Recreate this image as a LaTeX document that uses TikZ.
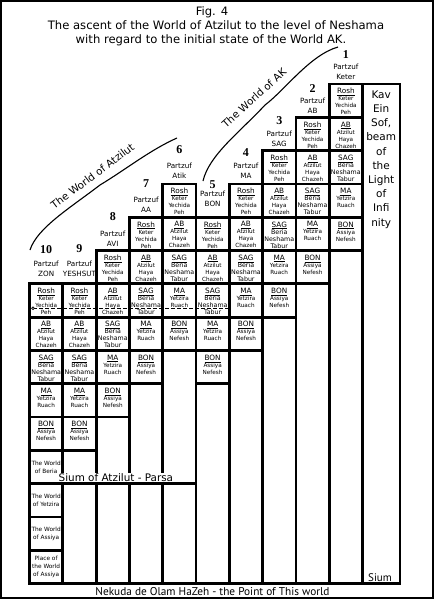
\documentclass[tikz,border=0pt]{standalone}
\usepackage{fontspec}
\setmainfont{DejaVu Sans}
\newfontfamily\numfont{Liberation Serif}
\newfontfamily\ptfont{PT Sans}
\newcommand\hd[1]{{\fontsize{7.3}{7}\selectfont\underline{#1}}}
\newcommand\bg[1]{{\fontsize{6.3}{7}\selectfont #1}}
\newcommand\txtRosh{\hd{Rosh}\\Keter\\Yechida\\\underline{Peh}}
\newcommand\txtAB{\hd{AB}\\Atzilut\\Haya\\\underline{Chazeh}}
\newcommand\txtSAG{\hd{SAG}\\\bg{Beria}\\\bg{Neshama}\\\bg{\underline{Tabur}}}
\newcommand\txtMA{\hd{MA}\\Yetzira\\Ruach}
\newcommand\txtBON{\hd{BON}\\Assiya\\Nefesh}
\tikzset{
  grid/.style={line width=2.8pt, draw=black},
  celltext/.style={font=\fontsize{5.7}{7}\selectfont, align=center, inner sep=0pt, anchor=north},
  worldtext/.style={font=\fontsize{5.8}{8}\selectfont, align=center, inner sep=0pt},
  numlbl/.style={font=\numfont\bfseries\fontsize{12}{12}\selectfont, inner sep=0pt},
  partlbl/.style={font=\fontsize{7.2}{9.5}\selectfont, align=center, inner sep=0pt, anchor=north},
  titletext/.style={font=\fontsize{11.6}{14}\selectfont, inner sep=0pt, anchor=base},
  curvetext/.style={font=\fontsize{10.3}{12}\selectfont, inner sep=0pt},
  curveline/.style={line width=1.1pt},
}
\begin{document}
\begin{tikzpicture}[x=1pt,y=-1pt]
\useasboundingbox (0,0) rectangle (434,600);
\draw[line width=2pt] (1,1) rectangle (432.5,598);
% titles
\node[titletext] (fig) at (212,15) {Fig. 4};
\node[titletext] (t2) at (216,29.5) {The ascent of the World of Atzilut to the level of Neshama};
\node[titletext] (t3) at (211,43) {with regard to the initial state of the World AK.};
% cells
\foreach \i/\s in {0/6,1/6,2/5,3/4,4/3,5/4,6/3,7/2,8/1,9/0} {
  \foreach \t [count=\k from 0] in {Rosh,AB,SAG,MA,BON} {
    \pgfmathsetmacro\r{\s+\k}
    \draw[grid] ({29.5+33.3*\i},{84+33.3*\r}) rectangle ({29.5+33.3*(\i+1)},{84+33.3*(\r+1)});
    \node[celltext] (c\i-\k) at ({46.15+33.3*\i},{84+33.3*\r+4.2}) {\csname txt\t\endcsname};
  }
}
% empty boxes
\foreach \i/\a/\b in {1/11/12,1/12/15,2/10/12,2/12/15,3/9/12,3/12/15,4/8/12,4/12/15,5/9/15,6/8/15,7/7/15,8/6/15,9/5/15} {
  \draw[grid] ({29.5+33.3*\i},{84+33.3*\a}) rectangle ({29.5+33.3*(\i+1)},{84+33.3*\b});
}
% ZON world boxes
\foreach \r/\txt [count=\n] in {11/{The World\\of Beria},12/{The World\\of Yetzira},13/{The World\\of Assiya},14/{Place of\\the World\\of Assiya}} {
  \draw[grid] (29.5,{84+33.3*\r}) rectangle (62.8,{84+33.3*(\r+1)});
  \node[worldtext] (w\n) at (46.15,{84+33.3*\r+16.65}) {\txt};
}
% Kav column
\draw[grid] (362.5,84) rectangle (400,583.5);
\node[font=\fontsize{10.5}{14.2}\selectfont, align=center, inner sep=0pt, anchor=north] (kav) at (381.2,90.5) {Kav\\Ein\\Sof,\\beam\\of\\the\\Light\\of\\Infi\\nity};
\node[font=\ptfont\fontsize{11}{12}\selectfont, inner sep=0pt, anchor=base] (sium) at (380,581.5) {Sium};
% numbers and Partzuf labels
\foreach \i/\n/\ny/\py/\nm in {0/10/250/261/ZON,1/9/249/261/YESHSUT,2/8/217/231/AVI,3/7/184/197/AA,4/6/150/163/Atik,5/5/185/191/BON,6/4/153/163/MA,7/3/121/131/SAG,8/2/89/98/AB,9/1/55/64/Keter} {
  \node[numlbl] (n\i) at ({46.15+33.3*\i},\ny) {\n};
  \node[partlbl] (p\i) at ({46.15+33.3*\i},\py) {Partzuf\\\nm};
}
% dashed line
\coordinate (dA) at (33,308.3);
\coordinate (dB) at (228,308.3);
\draw[line width=0.9pt, dash pattern=on 3.5pt off 2.5pt] (dA) -- (dB);
\draw[line width=0.7pt, fill=white] (dA) circle (1.4pt);
% Sium of Atzilut
\node[font=\fontsize{10.4}{12}\selectfont, fill=white, inner sep=0.5pt, anchor=base west] (parsa) at (58,481) {Sium of Atzilut - Parsa};
% curves
\coordinate (ak0) at (203,181);
\coordinate (ak1) at (265,105);
\coordinate (ak2) at (338,47);
\draw[curveline] (ak0) .. controls (209,155) and (240,132) .. (ak1) .. controls (285,90) and (310,55) .. (ak2);
\node[curvetext, rotate=42] (akl) at (254,98) {The World of AK};
\coordinate (az0) at (30,250);
\coordinate (az1) at (100,185);
\coordinate (az2) at (177,138);
\draw[curveline] (az0) .. controls (37,228) and (70,208) .. (az1) .. controls (125,170) and (150,150) .. (az2);
\node[curvetext, rotate=37] (azl) at (92.5,176) {The World of Atzilut};
% bottom text
\node[font=\ptfont\fontsize{11.3}{12}\selectfont, inner sep=0pt, anchor=base] (nek) at (212.5,595) {Nekuda de Olam HaZeh - the Point of This world};
\end{tikzpicture}
\end{document}
